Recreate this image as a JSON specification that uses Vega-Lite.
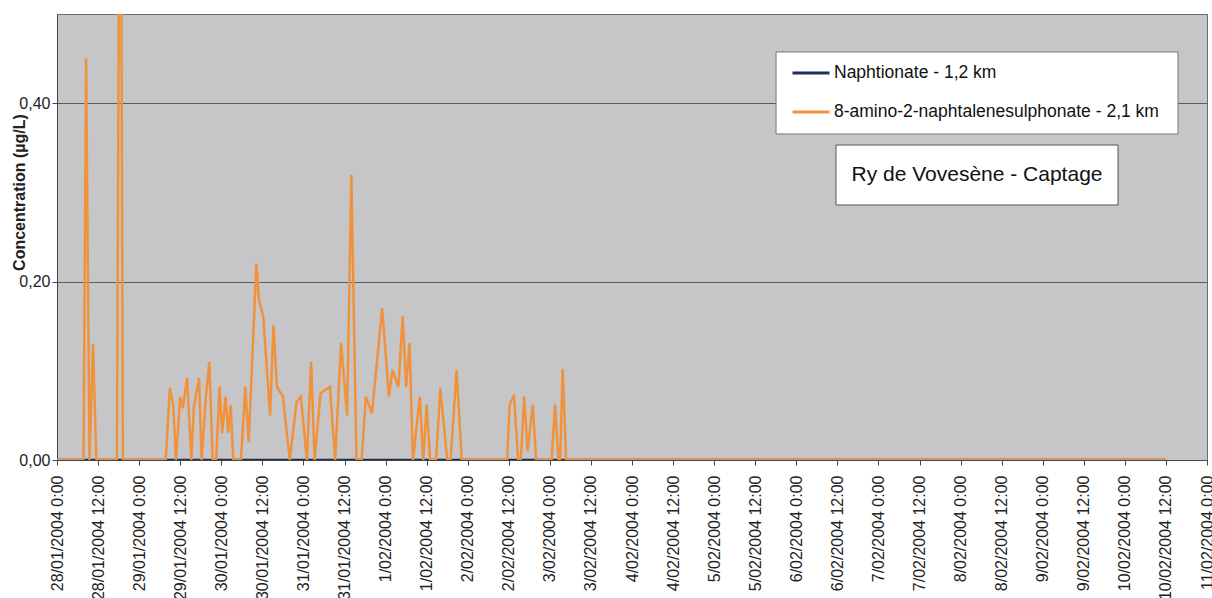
{
  "$schema": "https://vega.github.io/schema/vega-lite/v6.json",
  "width": 1150,
  "height": 446,
  "autosize": "none",
  "padding": {"left": 57, "top": 14, "right": 5, "bottom": 138},
  "background": "white",
  "config": {
    "locale": {
      "number": {"decimal": ",", "thousands": ".", "grouping": [3], "currency": ["", " €"]}
    },
    "view": {"fill": "#c6c6c9", "stroke": "#6b6b6b", "strokeWidth": 1},
    "axis": {
      "labelFont": "Liberation Sans",
      "labelFontSize": 16,
      "labelColor": "#222222",
      "domainColor": "#444444",
      "tickColor": "#444444",
      "gridColor": "#5c5c5c",
      "gridWidth": 1,
      "titleFont": "Liberation Sans"
    },
    "legend": {
      "orient": "none",
      "legendX": 734,
      "legendY": 39,
      "padding": 0,
      "rowPadding": 10,
      "symbolType": "stroke",
      "symbolSize": 1369,
      "symbolStrokeWidth": 3,
      "labelFont": "Liberation Sans",
      "labelFontSize": 17.5,
      "labelColor": "#111111",
      "labelOffset": 3,
      "labelLimit": 600
    }
  },
  "datasets": {
    "series": [
      {"time": "2004-01-28T00:00", "conc": 0, "series": "Naphtionate - 1,2 km"},
      {"time": "2004-01-28T12:00", "conc": 0, "series": "Naphtionate - 1,2 km"},
      {"time": "2004-01-29T00:00", "conc": 0, "series": "Naphtionate - 1,2 km"},
      {"time": "2004-01-29T12:00", "conc": 0, "series": "Naphtionate - 1,2 km"},
      {"time": "2004-01-30T00:00", "conc": 0, "series": "Naphtionate - 1,2 km"},
      {"time": "2004-01-30T12:00", "conc": 0, "series": "Naphtionate - 1,2 km"},
      {"time": "2004-01-31T00:00", "conc": 0, "series": "Naphtionate - 1,2 km"},
      {"time": "2004-01-31T12:00", "conc": 0, "series": "Naphtionate - 1,2 km"},
      {"time": "2004-02-01T00:00", "conc": 0, "series": "Naphtionate - 1,2 km"},
      {"time": "2004-02-01T12:00", "conc": 0, "series": "Naphtionate - 1,2 km"},
      {"time": "2004-02-02T00:00", "conc": 0, "series": "Naphtionate - 1,2 km"},
      {"time": "2004-02-02T12:00", "conc": 0, "series": "Naphtionate - 1,2 km"},
      {"time": "2004-02-03T00:00", "conc": 0, "series": "Naphtionate - 1,2 km"},
      {"time": "2004-02-03T12:00", "conc": 0, "series": "Naphtionate - 1,2 km"},
      {"time": "2004-02-04T00:00", "conc": 0, "series": "Naphtionate - 1,2 km"},
      {"time": "2004-02-04T12:00", "conc": 0, "series": "Naphtionate - 1,2 km"},
      {"time": "2004-02-05T00:00", "conc": 0, "series": "Naphtionate - 1,2 km"},
      {"time": "2004-02-05T12:00", "conc": 0, "series": "Naphtionate - 1,2 km"},
      {"time": "2004-02-06T00:00", "conc": 0, "series": "Naphtionate - 1,2 km"},
      {"time": "2004-02-06T12:00", "conc": 0, "series": "Naphtionate - 1,2 km"},
      {"time": "2004-02-07T00:00", "conc": 0, "series": "Naphtionate - 1,2 km"},
      {"time": "2004-02-07T12:00", "conc": 0, "series": "Naphtionate - 1,2 km"},
      {"time": "2004-02-08T00:00", "conc": 0, "series": "Naphtionate - 1,2 km"},
      {"time": "2004-02-08T12:00", "conc": 0, "series": "Naphtionate - 1,2 km"},
      {"time": "2004-02-09T00:00", "conc": 0, "series": "Naphtionate - 1,2 km"},
      {"time": "2004-02-09T12:00", "conc": 0, "series": "Naphtionate - 1,2 km"},
      {"time": "2004-02-10T00:00", "conc": 0, "series": "Naphtionate - 1,2 km"},
      {"time": "2004-02-10T12:00", "conc": 0, "series": "Naphtionate - 1,2 km"},

      {"time": "2004-01-28T00:00", "conc": 0, "series": "8-amino-2-naphtalenesulphonate - 2,1 km"},
      {"time": "2004-01-28T07:45", "conc": 0, "series": "8-amino-2-naphtalenesulphonate - 2,1 km"},
      {"time": "2004-01-28T08:30", "conc": 0.45, "series": "8-amino-2-naphtalenesulphonate - 2,1 km"},
      {"time": "2004-01-28T09:30", "conc": 0, "series": "8-amino-2-naphtalenesulphonate - 2,1 km"},
      {"time": "2004-01-28T10:30", "conc": 0.13, "series": "8-amino-2-naphtalenesulphonate - 2,1 km"},
      {"time": "2004-01-28T11:30", "conc": 0, "series": "8-amino-2-naphtalenesulphonate - 2,1 km"},
      {"time": "2004-01-28T17:30", "conc": 0, "series": "8-amino-2-naphtalenesulphonate - 2,1 km"},
      {"time": "2004-01-28T18:30", "conc": 0.9, "series": "8-amino-2-naphtalenesulphonate - 2,1 km"},
      {"time": "2004-01-28T19:15", "conc": 0, "series": "8-amino-2-naphtalenesulphonate - 2,1 km"},
      {"time": "2004-01-29T07:45", "conc": 0, "series": "8-amino-2-naphtalenesulphonate - 2,1 km"},
      {"time": "2004-01-29T09:00", "conc": 0.081, "series": "8-amino-2-naphtalenesulphonate - 2,1 km"},
      {"time": "2004-01-29T10:00", "conc": 0.06, "series": "8-amino-2-naphtalenesulphonate - 2,1 km"},
      {"time": "2004-01-29T10:45", "conc": 0, "series": "8-amino-2-naphtalenesulphonate - 2,1 km"},
      {"time": "2004-01-29T12:00", "conc": 0.071, "series": "8-amino-2-naphtalenesulphonate - 2,1 km"},
      {"time": "2004-01-29T12:45", "conc": 0.058, "series": "8-amino-2-naphtalenesulphonate - 2,1 km"},
      {"time": "2004-01-29T14:00", "conc": 0.092, "series": "8-amino-2-naphtalenesulphonate - 2,1 km"},
      {"time": "2004-01-29T15:15", "conc": 0, "series": "8-amino-2-naphtalenesulphonate - 2,1 km"},
      {"time": "2004-01-29T16:00", "conc": 0.06, "series": "8-amino-2-naphtalenesulphonate - 2,1 km"},
      {"time": "2004-01-29T17:30", "conc": 0.092, "series": "8-amino-2-naphtalenesulphonate - 2,1 km"},
      {"time": "2004-01-29T18:15", "conc": 0, "series": "8-amino-2-naphtalenesulphonate - 2,1 km"},
      {"time": "2004-01-29T19:30", "conc": 0.071, "series": "8-amino-2-naphtalenesulphonate - 2,1 km"},
      {"time": "2004-01-29T20:30", "conc": 0.11, "series": "8-amino-2-naphtalenesulphonate - 2,1 km"},
      {"time": "2004-01-29T21:30", "conc": 0, "series": "8-amino-2-naphtalenesulphonate - 2,1 km"},
      {"time": "2004-01-29T22:30", "conc": 0, "series": "8-amino-2-naphtalenesulphonate - 2,1 km"},
      {"time": "2004-01-29T23:30", "conc": 0.082, "series": "8-amino-2-naphtalenesulphonate - 2,1 km"},
      {"time": "2004-01-30T00:15", "conc": 0.03, "series": "8-amino-2-naphtalenesulphonate - 2,1 km"},
      {"time": "2004-01-30T01:15", "conc": 0.071, "series": "8-amino-2-naphtalenesulphonate - 2,1 km"},
      {"time": "2004-01-30T02:00", "conc": 0.03, "series": "8-amino-2-naphtalenesulphonate - 2,1 km"},
      {"time": "2004-01-30T02:45", "conc": 0.062, "series": "8-amino-2-naphtalenesulphonate - 2,1 km"},
      {"time": "2004-01-30T03:30", "conc": 0, "series": "8-amino-2-naphtalenesulphonate - 2,1 km"},
      {"time": "2004-01-30T05:45", "conc": 0, "series": "8-amino-2-naphtalenesulphonate - 2,1 km"},
      {"time": "2004-01-30T07:00", "conc": 0.082, "series": "8-amino-2-naphtalenesulphonate - 2,1 km"},
      {"time": "2004-01-30T08:00", "conc": 0.02, "series": "8-amino-2-naphtalenesulphonate - 2,1 km"},
      {"time": "2004-01-30T10:15", "conc": 0.22, "series": "8-amino-2-naphtalenesulphonate - 2,1 km"},
      {"time": "2004-01-30T11:00", "conc": 0.18, "series": "8-amino-2-naphtalenesulphonate - 2,1 km"},
      {"time": "2004-01-30T12:15", "conc": 0.161, "series": "8-amino-2-naphtalenesulphonate - 2,1 km"},
      {"time": "2004-01-30T14:15", "conc": 0.05, "series": "8-amino-2-naphtalenesulphonate - 2,1 km"},
      {"time": "2004-01-30T15:15", "conc": 0.151, "series": "8-amino-2-naphtalenesulphonate - 2,1 km"},
      {"time": "2004-01-30T16:15", "conc": 0.082, "series": "8-amino-2-naphtalenesulphonate - 2,1 km"},
      {"time": "2004-01-30T18:00", "conc": 0.071, "series": "8-amino-2-naphtalenesulphonate - 2,1 km"},
      {"time": "2004-01-30T20:00", "conc": 0, "series": "8-amino-2-naphtalenesulphonate - 2,1 km"},
      {"time": "2004-01-30T22:00", "conc": 0.065, "series": "8-amino-2-naphtalenesulphonate - 2,1 km"},
      {"time": "2004-01-30T23:15", "conc": 0.071, "series": "8-amino-2-naphtalenesulphonate - 2,1 km"},
      {"time": "2004-01-31T01:00", "conc": 0, "series": "8-amino-2-naphtalenesulphonate - 2,1 km"},
      {"time": "2004-01-31T02:15", "conc": 0.11, "series": "8-amino-2-naphtalenesulphonate - 2,1 km"},
      {"time": "2004-01-31T03:15", "conc": 0, "series": "8-amino-2-naphtalenesulphonate - 2,1 km"},
      {"time": "2004-01-31T05:00", "conc": 0.075, "series": "8-amino-2-naphtalenesulphonate - 2,1 km"},
      {"time": "2004-01-31T07:45", "conc": 0.082, "series": "8-amino-2-naphtalenesulphonate - 2,1 km"},
      {"time": "2004-01-31T09:15", "conc": 0, "series": "8-amino-2-naphtalenesulphonate - 2,1 km"},
      {"time": "2004-01-31T11:00", "conc": 0.131, "series": "8-amino-2-naphtalenesulphonate - 2,1 km"},
      {"time": "2004-01-31T12:45", "conc": 0.05, "series": "8-amino-2-naphtalenesulphonate - 2,1 km"},
      {"time": "2004-01-31T14:00", "conc": 0.32, "series": "8-amino-2-naphtalenesulphonate - 2,1 km"},
      {"time": "2004-01-31T15:30", "conc": 0, "series": "8-amino-2-naphtalenesulphonate - 2,1 km"},
      {"time": "2004-01-31T17:00", "conc": 0, "series": "8-amino-2-naphtalenesulphonate - 2,1 km"},
      {"time": "2004-01-31T18:15", "conc": 0.071, "series": "8-amino-2-naphtalenesulphonate - 2,1 km"},
      {"time": "2004-01-31T20:00", "conc": 0.052, "series": "8-amino-2-naphtalenesulphonate - 2,1 km"},
      {"time": "2004-01-31T23:00", "conc": 0.17, "series": "8-amino-2-naphtalenesulphonate - 2,1 km"},
      {"time": "2004-02-01T01:00", "conc": 0.071, "series": "8-amino-2-naphtalenesulphonate - 2,1 km"},
      {"time": "2004-02-01T02:00", "conc": 0.101, "series": "8-amino-2-naphtalenesulphonate - 2,1 km"},
      {"time": "2004-02-01T03:45", "conc": 0.082, "series": "8-amino-2-naphtalenesulphonate - 2,1 km"},
      {"time": "2004-02-01T05:00", "conc": 0.161, "series": "8-amino-2-naphtalenesulphonate - 2,1 km"},
      {"time": "2004-02-01T06:00", "conc": 0.082, "series": "8-amino-2-naphtalenesulphonate - 2,1 km"},
      {"time": "2004-02-01T07:00", "conc": 0.131, "series": "8-amino-2-naphtalenesulphonate - 2,1 km"},
      {"time": "2004-02-01T08:00", "conc": 0, "series": "8-amino-2-naphtalenesulphonate - 2,1 km"},
      {"time": "2004-02-01T10:00", "conc": 0.071, "series": "8-amino-2-naphtalenesulphonate - 2,1 km"},
      {"time": "2004-02-01T11:00", "conc": 0, "series": "8-amino-2-naphtalenesulphonate - 2,1 km"},
      {"time": "2004-02-01T12:00", "conc": 0.062, "series": "8-amino-2-naphtalenesulphonate - 2,1 km"},
      {"time": "2004-02-01T13:00", "conc": 0, "series": "8-amino-2-naphtalenesulphonate - 2,1 km"},
      {"time": "2004-02-01T14:45", "conc": 0, "series": "8-amino-2-naphtalenesulphonate - 2,1 km"},
      {"time": "2004-02-01T16:00", "conc": 0.081, "series": "8-amino-2-naphtalenesulphonate - 2,1 km"},
      {"time": "2004-02-01T18:00", "conc": 0, "series": "8-amino-2-naphtalenesulphonate - 2,1 km"},
      {"time": "2004-02-01T19:00", "conc": 0, "series": "8-amino-2-naphtalenesulphonate - 2,1 km"},
      {"time": "2004-02-01T20:45", "conc": 0.101, "series": "8-amino-2-naphtalenesulphonate - 2,1 km"},
      {"time": "2004-02-01T22:15", "conc": 0, "series": "8-amino-2-naphtalenesulphonate - 2,1 km"},
      {"time": "2004-02-02T11:30", "conc": 0, "series": "8-amino-2-naphtalenesulphonate - 2,1 km"},
      {"time": "2004-02-02T12:15", "conc": 0.062, "series": "8-amino-2-naphtalenesulphonate - 2,1 km"},
      {"time": "2004-02-02T13:30", "conc": 0.073, "series": "8-amino-2-naphtalenesulphonate - 2,1 km"},
      {"time": "2004-02-02T14:45", "conc": 0, "series": "8-amino-2-naphtalenesulphonate - 2,1 km"},
      {"time": "2004-02-02T15:30", "conc": 0, "series": "8-amino-2-naphtalenesulphonate - 2,1 km"},
      {"time": "2004-02-02T16:30", "conc": 0.071, "series": "8-amino-2-naphtalenesulphonate - 2,1 km"},
      {"time": "2004-02-02T17:30", "conc": 0.01, "series": "8-amino-2-naphtalenesulphonate - 2,1 km"},
      {"time": "2004-02-02T19:00", "conc": 0.062, "series": "8-amino-2-naphtalenesulphonate - 2,1 km"},
      {"time": "2004-02-02T20:00", "conc": 0, "series": "8-amino-2-naphtalenesulphonate - 2,1 km"},
      {"time": "2004-02-03T00:30", "conc": 0, "series": "8-amino-2-naphtalenesulphonate - 2,1 km"},
      {"time": "2004-02-03T01:30", "conc": 0.062, "series": "8-amino-2-naphtalenesulphonate - 2,1 km"},
      {"time": "2004-02-03T02:30", "conc": 0, "series": "8-amino-2-naphtalenesulphonate - 2,1 km"},
      {"time": "2004-02-03T03:00", "conc": 0, "series": "8-amino-2-naphtalenesulphonate - 2,1 km"},
      {"time": "2004-02-03T03:45", "conc": 0.102, "series": "8-amino-2-naphtalenesulphonate - 2,1 km"},
      {"time": "2004-02-03T04:45", "conc": 0, "series": "8-amino-2-naphtalenesulphonate - 2,1 km"},
      {"time": "2004-02-10T12:00", "conc": 0, "series": "8-amino-2-naphtalenesulphonate - 2,1 km"}
    ],
    "notes": [
      {"note": "Ry de Vovesène - Captage"}
    ]
  },
  "layer": [
    {
      "data": {"name": "series"},
      "transform": [{"filter": "datum.series === 'Naphtionate - 1,2 km'"}],
      "mark": {"type": "line", "strokeWidth": 2.5, "clip": true},
      "encoding": {
        "x": {
          "field": "time",
          "type": "temporal",
          "scale": {
            "domain": [
              {"year": 2004, "month": 1, "date": 28},
              {"year": 2004, "month": 2, "date": 11}
            ],
            "nice": false
          },
          "axis": {
            "title": null,
            "grid": false,
            "tickCount": 28,
            "format": "%-d/%m/%Y %-H:%M",
            "labelAngle": -90,
            "labelOverlap": false,
            "labelPadding": 10,
            "tickSize": 5
          }
        },
        "y": {
          "field": "conc",
          "type": "quantitative",
          "scale": {"domain": [0, 0.5], "nice": false},
          "axis": {
            "values": [0, 0.2, 0.4],
            "format": ".2f",
            "title": "Concentration (µg/L)",
            "titleFontSize": 16,
            "titleFontWeight": "bold",
            "titleColor": "#222222",
            "titleX": -38,
            "titleY": 178,
            "titleBaseline": "middle",
            "grid": true,
            "tickSize": 5
          }
        },
        "color": {
          "field": "series",
          "type": "nominal",
          "scale": {
            "domain": ["Naphtionate - 1,2 km", "8-amino-2-naphtalenesulphonate - 2,1 km"],
            "range": ["#1f2d5c", "#f0923c"]
          },
          "legend": {"title": null}
        }
      }
    },
    {
      "data": {"name": "series"},
      "transform": [{"filter": "datum.series !== 'Naphtionate - 1,2 km'"}],
      "mark": {"type": "line", "strokeWidth": 2.5, "clip": true},
      "encoding": {
        "x": {"field": "time", "type": "temporal"},
        "y": {"field": "conc", "type": "quantitative"},
        "color": {
          "field": "series",
          "type": "nominal",
          "scale": {
            "domain": ["Naphtionate - 1,2 km", "8-amino-2-naphtalenesulphonate - 2,1 km"],
            "range": ["#1f2d5c", "#f0923c"]
          },
          "legend": {"title": null}
        }
      }
    },
    {
      "data": {"name": "notes"},
      "mark": {"type": "rect", "fill": "white", "stroke": "#777777", "strokeWidth": 1},
      "encoding": {
        "x": {"datum": 1076004300000, "type": "temporal"},
        "x2": {"datum": 1076427120000},
        "y": {"datum": 0.4574, "type": "quantitative"},
        "y2": {"datum": 0.3655}
      }
    },
    {
      "data": {"name": "notes"},
      "mark": {"type": "rect", "fill": "white", "stroke": "#555555", "strokeWidth": 1},
      "encoding": {
        "x": {"datum": 1076067360000, "type": "temporal"},
        "x2": {"datum": 1076364000000},
        "y": {"datum": 0.3531, "type": "quantitative"},
        "y2": {"datum": 0.2859}
      }
    },
    {
      "data": {"name": "notes"},
      "mark": {"type": "text", "font": "Liberation Sans", "fontSize": 21, "color": "#111111", "align": "center", "baseline": "middle"},
      "encoding": {
        "x": {"datum": 1076215680000, "type": "temporal"},
        "y": {"datum": 0.3195, "type": "quantitative"},
        "text": {"field": "note"}
      }
    }
  ]
}
